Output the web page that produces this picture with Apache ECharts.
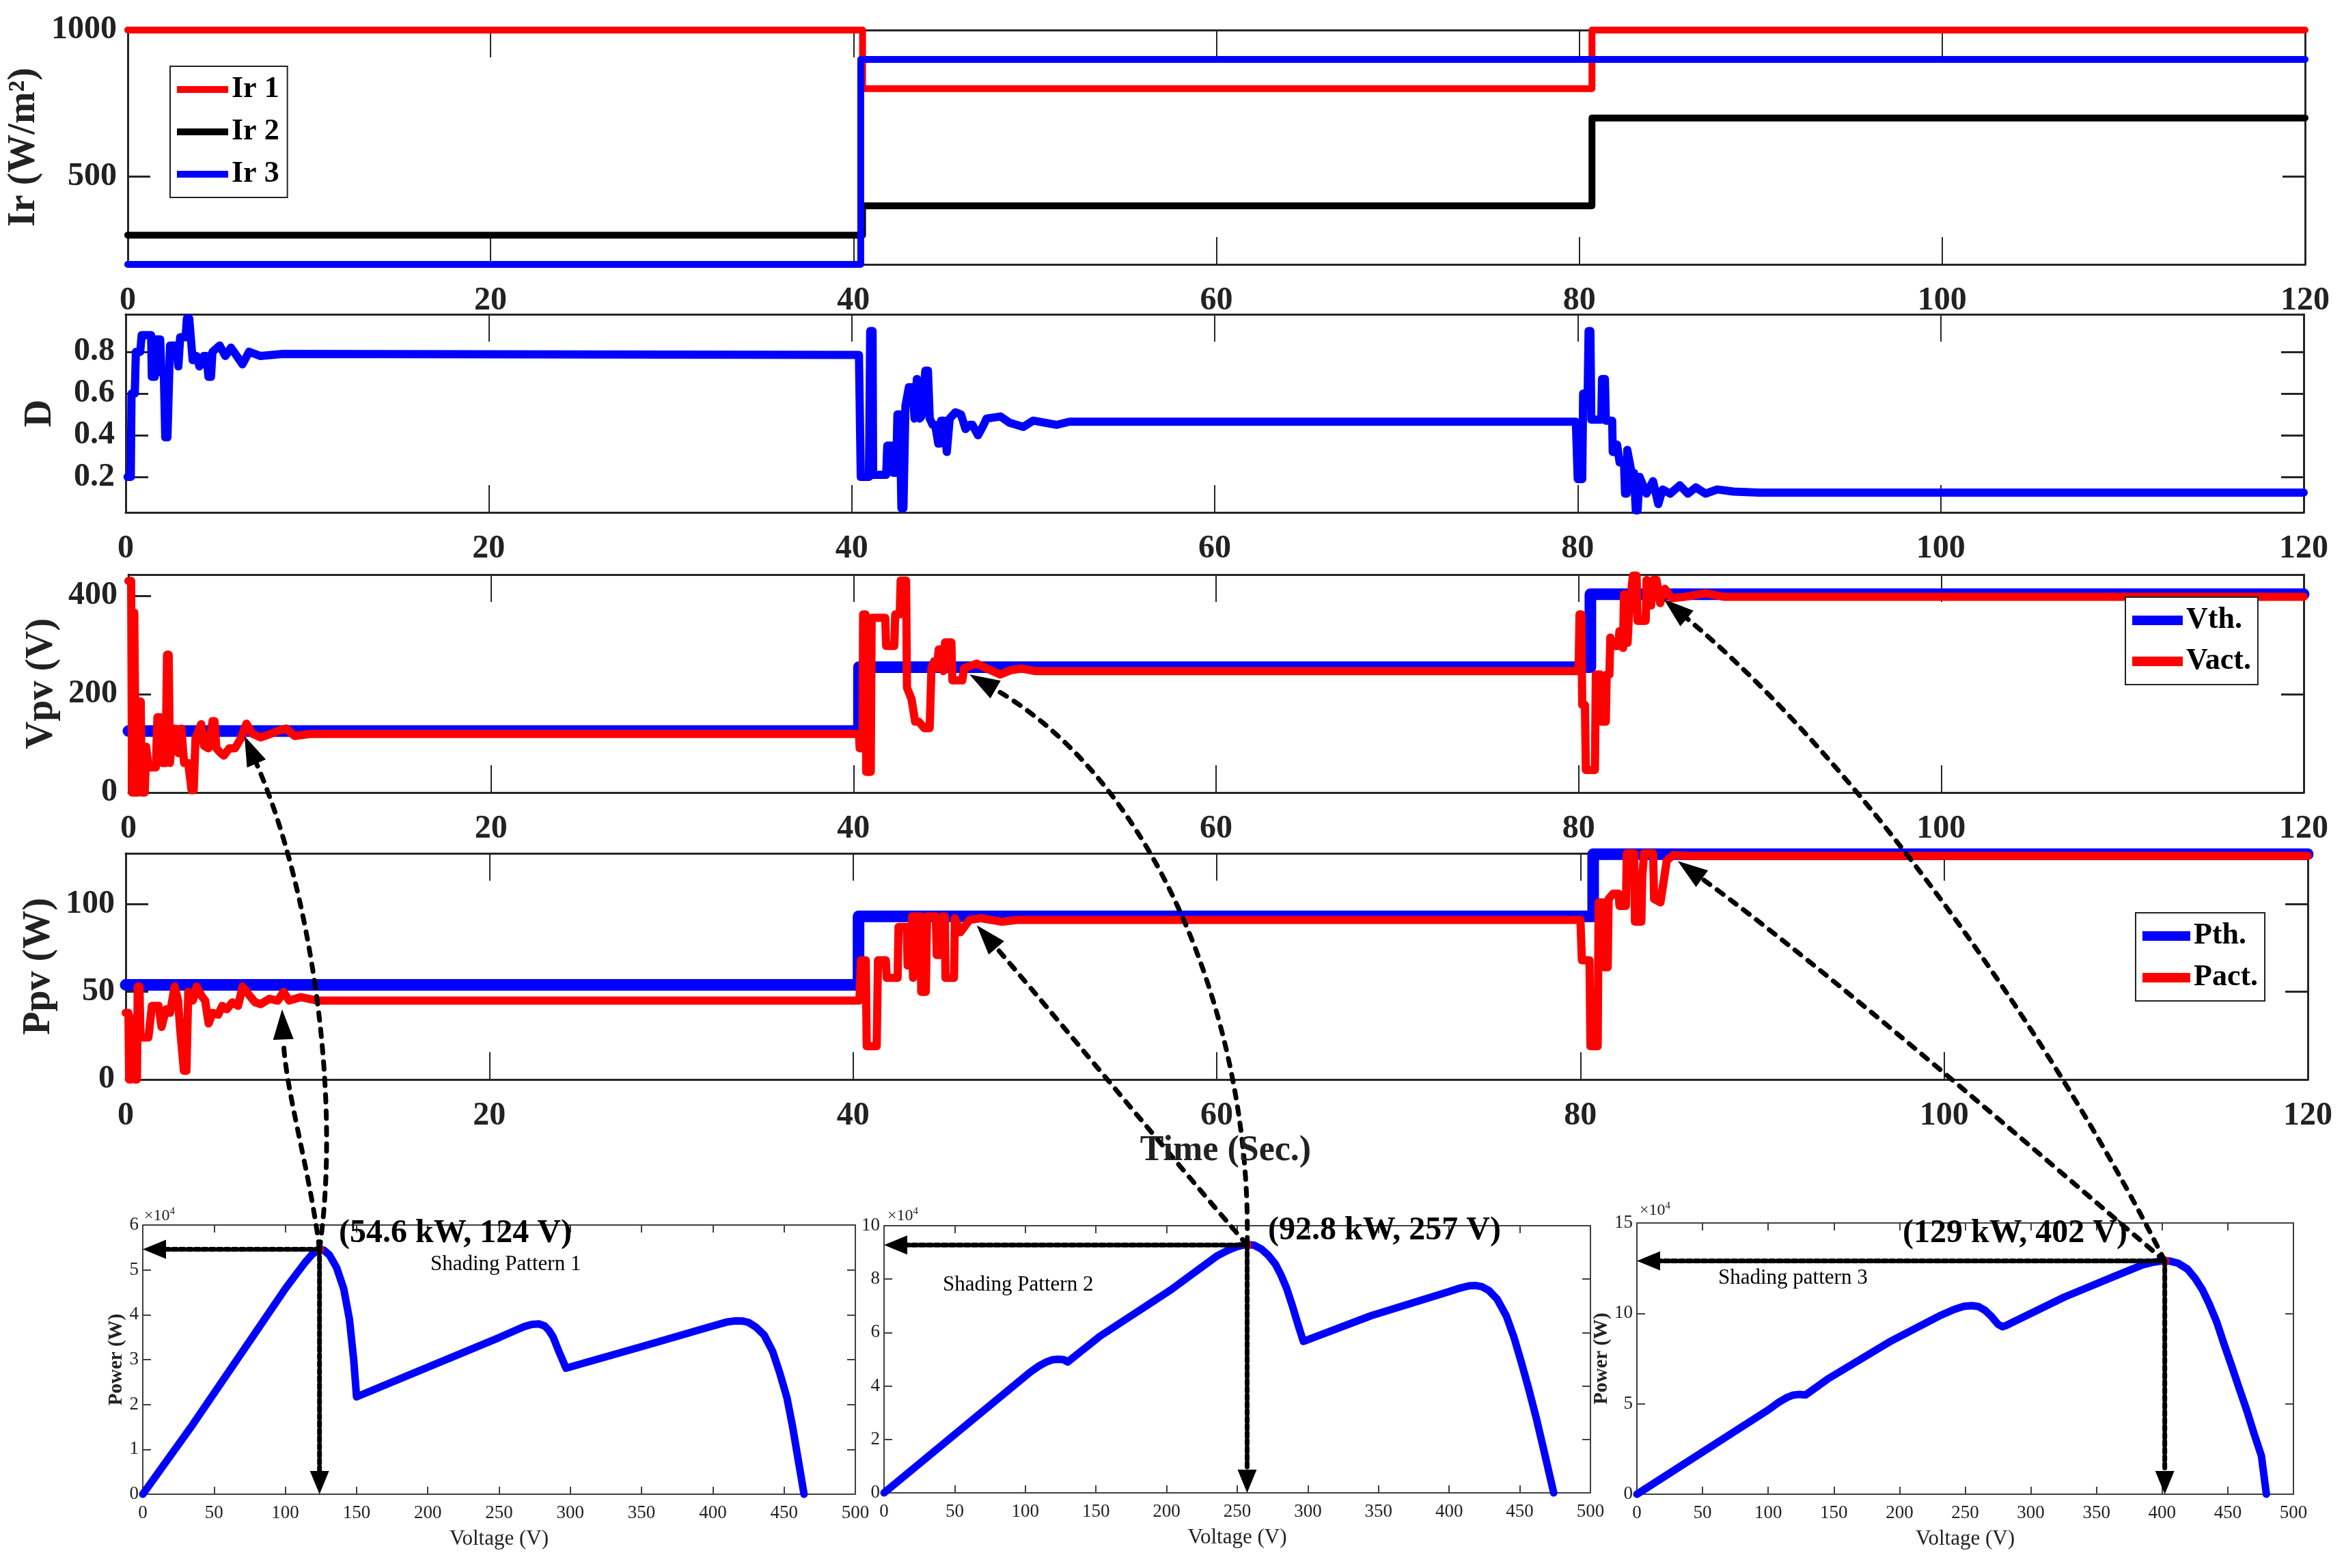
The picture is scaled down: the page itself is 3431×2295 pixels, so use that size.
<!DOCTYPE html>
<html><head><meta charset="utf-8">
<script src="https://cdn.jsdelivr.net/npm/echarts@6/dist/echarts.min.js"></script>
<style>html,body{margin:0;padding:0;background:#fff}#c{width:3431px;height:2295px}</style>
</head><body><div id="c"></div>
<script>
// ---------------- DATA ----------------
const timeTicks = [0, 20, 40, 60, 80, 100, 120];
const ir1 = [[0,1000],[40.5,1000],[40.5,800],[80.7,800],[80.7,1000],[120,1000]];
const ir2 = [[0,300],[40.5,300],[40.5,400],[80.7,400],[80.7,700],[120,700]];
const ir3 = [[0,200],[40.4,200],[40.4,900],[120,900]];
const duty = [[0.1,0.2],[0.28,0.2],[0.32,0.6],[0.5,0.6],[0.56,0.8],[0.8,0.8],[0.88,0.88],[1.4,0.88],[1.44,0.68],[1.6,0.68],[1.66,0.86],[1.9,0.86],[1.97,0.7],[2.1,0.7],[2.18,0.39],[2.3,0.39],[2.44,0.83],[2.8,0.83],[2.9,0.73],[2.95,0.73],[3.0,0.87],[3.3,0.87],[3.37,0.96],[3.5,0.96],[3.69,0.76],[3.9,0.78],[4.06,0.73],[4.2,0.75],[4.31,0.78],[4.45,0.78],[4.56,0.68],[4.7,0.68],[4.78,0.8],[5.18,0.83],[5.49,0.78],[5.8,0.82],[6.12,0.78],[6.43,0.74],[6.8,0.8],[7.43,0.78],[8.68,0.79],[40.4,0.785],
[40.5,0.2],[40.95,0.2],[41.02,0.9],[41.15,0.9],[41.18,0.21],[41.9,0.21],[41.96,0.35],[42.2,0.35],[42.28,0.22],[42.45,0.22],[42.52,0.5],[42.65,0.5],[42.74,0.05],[42.85,0.05],[42.96,0.54],[43.15,0.63],[43.35,0.63],[43.46,0.48],[43.59,0.67],[43.75,0.48],[43.84,0.49],[44.06,0.71],[44.2,0.71],[44.3,0.48],[44.46,0.45],[44.6,0.45],[44.77,0.36],[44.85,0.36],[44.93,0.47],[45.1,0.47],[45.24,0.32],[45.3,0.32],[45.4,0.48],[45.71,0.51],[46.02,0.5],[46.27,0.43],[46.5,0.45],[46.65,0.45],[46.96,0.4],[47.27,0.45],[47.43,0.48],[48.2,0.49],[48.7,0.46],[49.45,0.44],[50,0.47],[51.3,0.45],[52,0.465],[79.9,0.465],
[80.0,0.19],[80.25,0.19],[80.3,0.6],[80.55,0.6],[80.6,0.9],[80.7,0.9],[80.75,0.475],[81.3,0.475],[81.34,0.67],[81.5,0.67],[81.55,0.47],[81.9,0.47],[81.93,0.32],[82.17,0.355],[82.31,0.27],[82.55,0.27],[82.61,0.12],[82.7,0.12],[82.73,0.33],[82.97,0.22],[83.1,0.22],[83.2,0.04],[83.3,0.04],[83.41,0.2],[83.79,0.12],[84.15,0.18],[84.44,0.07],[84.68,0.14],[85.1,0.12],[85.63,0.16],[86.07,0.12],[86.51,0.15],[87.04,0.12],[87.69,0.14],[88.58,0.13],[90,0.125],[120,0.125]];
const vth = [[0,125],[40.3,125],[40.3,255],[80.65,255],[80.65,403],[120,403]];
const vact = [[0,430],[0.15,430],[0.2,0],[0.28,0],[0.32,366],[0.38,366],[0.41,0],[0.52,0],[0.57,185],[0.68,185],[0.73,0],[0.9,0],[0.98,93],[1.1,51],[1.51,51],[1.6,153],[1.75,153],[1.88,60],[2.05,60],[2.13,280],[2.22,280],[2.29,60],[2.45,130],[2.6,130],[2.76,80],[2.92,130],[3.07,60],[3.3,60],[3.48,5],[3.6,5],[3.7,110],[4.01,139],[4.17,95],[4.41,90],[4.64,145],[4.75,145],[4.85,90],[5.1,80],[5.26,75],[5.57,90],[5.88,90],[6.2,110],[6.51,140],[6.82,120],[7.29,112],[7.76,118],[8.23,125],[8.7,130],[9.17,115],[10,119],[40.3,119],
[40.34,90],[40.5,90],[40.53,362],[40.66,362],[40.7,42],[40.95,42],[41.0,355],[41.75,355],[41.8,298],[42.25,298],[42.3,362],[42.55,362],[42.6,431],[42.9,431],[42.95,213],[43.2,190],[43.4,144],[43.6,144],[43.9,131],[44.2,131],[44.3,253],[44.45,267],[44.6,253],[44.7,291],[44.9,291],[44.95,247],[45.05,305],[45.4,305],[45.45,228],[46.0,228],[46.1,253],[46.8,262],[47.3,253],[48.1,240],[48.7,249],[49.3,252],[50,247],[80.0,247],
[80.05,362],[80.15,362],[80.2,178],[80.35,178],[80.4,46],[80.9,46],[80.95,240],[81.2,240],[81.25,144],[81.5,144],[81.55,240],[81.7,240],[81.75,315],[81.9,298],[82.2,298],[82.25,328],[82.45,294],[82.5,403],[82.6,376],[82.7,304],[82.8,376],[83.0,441],[83.2,441],[83.25,349],[83.7,349],[83.75,432],[84.0,380],[84.1,432],[84.3,432],[84.5,385],[84.76,414],[85.14,395],[85.9,398],[87,405],[88,398],[120,398]];
const pth = [[0,54],[40.3,54],[40.3,93],[80.7,93],[80.7,128.5],[120,128.5]];
const pact = [[0,38],[0.15,38],[0.19,0],[0.28,0],[0.32,35],[0.45,35],[0.5,0],[0.62,0],[0.66,53],[0.76,53],[0.81,24],[1.25,24],[1.44,42],[1.81,42],[1.97,30],[2.22,40],[2.44,38],[2.69,53],[2.88,45],[3.0,28],[3.2,5],[3.34,5],[3.44,50],[3.69,45],[3.9,53],[4.15,48],[4.37,45],[4.56,32],[4.78,38],[5.09,37],[5.31,42],[5.56,40],[5.87,44],[6.18,42],[6.43,53],[6.8,48],[7.12,44],[7.43,43],[7.9,46],[8.37,45],[8.68,50],[8.99,45],[9.62,47],[10.55,45],[40.35,45],
[40.43,68],[40.7,68],[40.75,19],[41.3,19],[41.37,68],[41.8,68],[41.85,58],[42.45,58],[42.5,87],[42.95,87],[43.0,65],[43.2,65],[43.25,93],[43.3,58],[43.35,93],[43.7,93],[43.75,50],[44.0,50],[44.07,93],[44.55,93],[44.6,71],[44.85,71],[44.9,93],[45.05,93],[45.08,58],[45.55,58],[45.6,92],[45.9,84],[46.4,91],[47,92],[48.2,90],[49,91],[80.0,91],
[80.08,68],[80.5,68],[80.55,19],[80.95,19],[81.0,101],[81.25,101],[81.3,64],[81.5,64],[81.55,103],[81.8,106],[82.1,106],[82.15,99],[82.5,99],[82.55,129],[82.95,129],[83.0,90],[83.35,90],[83.4,116],[83.5,129],[84.0,129],[84.05,103],[84.4,101],[84.75,125],[85.1,128],[86,127.5],[120,127.5]];
// P-V curves: [voltage V, power W]
const pv1 = [[0,0],[35,15500],[79,36000],[100,45800],[108,49200],[114,51700],[119,53500],[124,54600],[127,54400],[131,53300],[136,50500],[141,45800],[145,39000],[148,30000],[150,21700],[200,28300],[250,34900],[262,36600],[268,37400],[273,37850],[278,37950],[282,37500],[285,36500],[288,35000],[292,31800],[297,28100],[350,32900],[400,37500],[410,38400],[416,38650],[421,38600],[425,38300],[430,37300],[436,35500],[442,31800],[447,27000],[452,21500],[456,15000],[460,7500],[464,0]];
const pv2 = [[0,0],[103.5,45200],[110,47600],[115,49000],[119,49800],[123,50000],[127,49900],[130,49000],[153,58700],[203,76000],[236,88800],[243,90700],[249,92000],[254,92700],[258,92900],[262,92700],[267,91300],[272,88900],[277,85600],[281,81500],[285,76500],[289,70000],[293,63000],[296.8,56700],[344.7,66300],[397.9,75000],[408,76700],[414,77500],[419,77600],[423,77200],[428,75800],[434,72500],[440.4,66300],[446,58000],[451,49000],[456,39500],[461.7,27900],[467,16000],[474,0]];
const pv3 = [[0,0],[100.2,46700],[108,50800],[114,53400],[119,54800],[124,55200],[128.4,54900],[145.3,63700],[194,84900],[231.6,99000],[242,102300],[249,103900],[255,104300],[260,103800],[265,101700],[270,98300],[275,94000],[278.5,92600],[282,93600],[325.5,109000],[363,120300],[385,126800],[393,128300],[400,129000],[406,128900],[412,127800],[419.3,124500],[425,119500],[430.6,113200],[436,105000],[441.8,94800],[447,83300],[453,70800],[458,60000],[464.3,46700],[470,33500],[475.6,21200],[479.4,0]];
const mpp = [[124,54600],[257,92800],[402,129000]];
const mppLabels = ['(54.6 kW, 124 V)', '(92.8 kW, 257 V)', '(129 kW, 402 V)'];
const shadingLabels = ['Shading Pattern 1', 'Shading Pattern 2', 'Shading pattern 3'];
const pvYTicks = [[0,60000,10000],[0,100000,20000],[0,150000,50000]];
const vArrowTargets = [[6.4,115],[46.4,240],[84.7,393]];
const pArrowTargets = [[8.6,40],[46.8,88],[85.35,124.6]];

// ---------------- LAYOUT ----------------
const FONT = 'Liberation Serif';
const AX = '#262626';
const grids = [
  {left:179, top:44, width:3195, height:343},
  {left:184, top:460, width:3188, height:290},
  {left:188, top:841, width:3184, height:319},
  {left:184, top:1249, width:3194, height:331},
  {left:209, top:1793, width:1043, height:394},
  {left:1294, top:1794, width:1034, height:391},
  {left:2396, top:1790, width:961, height:397}
];
const timePanels = [
  {ymin:200, ymax:1000, yticks:[500,1000], name:'Ir (W/m²)', gap:88},
  {ymin:0.03, ymax:0.98, yticks:[0.2,0.4,0.6,0.8], name:'D', gap:96},
  {ymin:0, ymax:443, yticks:[0,200,400], name:'Vpv (V)', gap:96},
  {ymin:0, ymax:129, yticks:[0,50,100], name:'Ppv (W)', gap:90}
];

const xAxes = [], yAxes = [];
timePanels.forEach((p, i) => {
  const base = {type:'value', gridIndex:i, min:0, max:120, interval:20, splitLine:{show:false},
    axisLine:{show:true, onZero:false, lineStyle:{color:AX, width:3}},
    axisTick:{show:true, inside:true, length:40, lineStyle:{color:AX, width:2}}};
  xAxes.push(Object.assign({}, base, {position:'bottom',
    axisLabel:{show:true, margin:30, fontFamily:FONT, fontWeight:'bold', fontSize:48, color:'#222', formatter: v => String(v)}}));
  xAxes.push(Object.assign({}, base, {position:'top', axisLabel:{show:false}}));
  const yb = {type:'value', gridIndex:i, min:p.ymin, max:p.ymax, splitLine:{show:false},
    axisLine:{show:true, onZero:false, lineStyle:{color:AX, width:3}},
    axisTick:{show:true, inside:true, length:33, customValues:p.yticks, lineStyle:{color:AX, width:3}}};
  yAxes.push(Object.assign({}, yb, {position:'left', name:p.name, nameLocation:'middle', nameGap:p.gap, nameRotate:90,
    nameTextStyle:{fontFamily:FONT, fontWeight:'bold', fontSize:56, color:'#222'},
    axisLabel:{show:true, margin:16, customValues:p.yticks, fontFamily:FONT, fontWeight:'bold', fontSize:48, color:'#222', formatter: v => String(v)}}));
  yAxes.push(Object.assign({}, yb, {position:'right', axisLabel:{show:false}}));
});
[0,1,2].forEach(k => {
  const gi = 4 + k;
  const xb = {type:'value', gridIndex:gi, min:0, max:500, interval:50, splitLine:{show:false},
    axisLine:{show:true, onZero:false, lineStyle:{color:'#404040', width:2}},
    axisTick:{show:true, inside:true, length:11, lineStyle:{color:'#404040', width:2}}};
  xAxes.push(Object.assign({}, xb, {position:'bottom', name:'Voltage (V)', nameLocation:'middle', nameGap:50,
    nameTextStyle:{fontFamily:FONT, fontSize:31, color:'#222'},
    axisLabel:{show:true, margin:14, fontFamily:FONT, fontSize:27, color:'#222'}}));
  xAxes.push(Object.assign({}, xb, {position:'top', axisLabel:{show:false}}));
  const t = pvYTicks[k];
  const yb = {type:'value', gridIndex:gi, min:t[0], max:t[1], interval:t[2], splitLine:{show:false},
    axisLine:{show:true, onZero:false, lineStyle:{color:'#404040', width:2}},
    axisTick:{show:true, inside:true, length:12, lineStyle:{color:'#404040', width:2}}};
  yAxes.push(Object.assign({}, yb, {position:'left', name: k === 1 ? '' : 'Power (W)', nameLocation:'middle',
    nameGap: k === 0 ? 24 : 30, nameRotate:90,
    nameTextStyle:{fontFamily:FONT, fontWeight:'bold', fontSize:29, color:'#222'},
    axisLabel:{show:true, margin:6, fontFamily:FONT, fontSize:27, color:'#222', formatter: v => String(v/10000)}}));
  yAxes.push(Object.assign({}, yb, {position:'right', axisLabel:{show:false}}));
});

function lineSeries(name, data, gi, color, width, z) {
  return {type:'line', name, data, xAxisIndex:2*gi, yAxisIndex:2*gi, showSymbol:false, symbol:'none',
    clip:false, animation:false, z: z || 2,
    lineStyle:{color, width, cap:'round', join:'round'}, itemStyle:{color}};
}
const series = [
  lineSeries('Ir 1', ir1, 0, '#ff0000', 10),
  lineSeries('Ir 2', ir2, 0, '#000000', 10),
  lineSeries('Ir 3', ir3, 0, '#0000ff', 10),
  lineSeries('D', duty, 1, '#0000ff', 12),
  lineSeries('Vth.', vth, 2, '#0000ff', 17),
  lineSeries('Vact.', vact, 2, '#ff0000', 12, 3),
  lineSeries('Pth.', pth, 3, '#0000ff', 17),
  lineSeries('Pact.', pact, 3, '#ff0000', 12, 3),
  lineSeries('PV1', pv1, 4, '#0000ff', 11),
  lineSeries('PV2', pv2, 5, '#0000ff', 11),
  lineSeries('PV3', pv3, 6, '#0000ff', 11)
];
[0,1,2].forEach(k => {
  series.push({type:'scatter', name:'MPP'+(k+1), data:[mpp[k]], xAxisIndex:2*(4+k), yAxisIndex:2*(4+k),
    symbol:'circle', symbolSize:14, itemStyle:{color:'#ff0000'}, z:5, animation:false, clip:false});
});

const legStyle = {orient:'vertical', icon:'rect', borderColor:'#222', borderWidth:2, backgroundColor:'#fff',
  selectedMode:false, textStyle:{fontFamily:FONT, fontWeight:'bold', fontSize:44, color:'#000'}};
const option = {
  animation:false,
  backgroundColor:'#fff',
  grid: grids,
  xAxis: xAxes,
  yAxis: yAxes,
  legend: [
    Object.assign({}, legStyle, {data:['Ir 1','Ir 2','Ir 3'], left:249, top:97, padding:[12,12,12,10], itemGap:18, itemWidth:75, itemHeight:10}),
    Object.assign({}, legStyle, {data:['Vth.','Vact.'], left:3111, top:874, padding:[12,10,12,10], itemGap:16, itemWidth:74, itemHeight:14}),
    Object.assign({}, legStyle, {data:['Pth.','Pact.'], left:3126, top:1336, padding:[12,10,12,10], itemGap:17, itemWidth:70, itemHeight:14})
  ],
  series
};

const chart = echarts.init(document.getElementById('c'), null, {renderer:'canvas', width:3431, height:2295});
chart.setOption(option);

// ---------------- ANNOTATIONS ----------------
const g = [];
const px = (si, v) => chart.convertToPixel({seriesIndex: si}, v);
function curveArrow(S, E, c1o, c2o, o) {
  const c1 = [S[0]+c1o[0], S[1]+c1o[1]];
  const c2 = [E[0]+c2o[0], E[1]+c2o[1]];
  let dx = E[0]-c2[0], dy = E[1]-c2[1]; const L = Math.hypot(dx, dy); dx /= L; dy /= L;
  const b = [E[0]-dx*o.len, E[1]-dy*o.len];
  g.push({type:'bezierCurve', silent:true, z:100,
    shape:{x1:S[0], y1:S[1], x2:b[0], y2:b[1], cpx1:c1[0], cpy1:c1[1], cpx2:c2[0], cpy2:c2[1]},
    style:{stroke:'#000', fill:null, lineWidth:o.w, lineDash:o.dash, lineCap:'round'}});
  const nx = -dy, ny = dx;
  g.push({type:'polygon', silent:true, z:101,
    shape:{points:[E, [b[0]+nx*o.hw, b[1]+ny*o.hw], [b[0]-nx*o.hw, b[1]-ny*o.hw]]}, style:{fill:'#000'}});
}
function straightArrow(S, E, o) {
  curveArrow(S, E, [0,0], [S[0]-E[0], S[1]-E[1]], o);
}
const bigDash = {w:7, dash:[11,13], len:44, hw:15};
const smallDash = {w:7, dash:[6,5], len:34, hw:14};
const curveOffsets = [
  {v:[[32,-225],[97,223]], p:[[-15,-120],[5,120]]},
  {v:[[7,-313],[280,163]], p:[[-100,-115],[100,115]]},
  {v:[[-150,-300],[300,250]], p:[[-200,-170],[220,160]]}
];
const textPos = [[496,1806],[1856,1802],[2785,1806]];
const shadePos = [[630,1851],[1380,1881],[2515,1871]];
const expPos = [[211,1780],[1299,1780],[2400,1772]];
[0,1,2].forEach(k => {
  const si = 8 + k;
  const S = px(si, mpp[k]);
  const yMin = pvYTicks[k][0];
  const leftPt = px(si, [0, mpp[k][1]]);
  const botPt = px(si, [mpp[k][0], yMin]);
  straightArrow(S, leftPt, smallDash);
  straightArrow(S, botPt, smallDash);
  const Ev = px(5, vArrowTargets[k]);
  const Ep = px(7, pArrowTargets[k]);
  curveArrow(S, Ev, curveOffsets[k].v[0], curveOffsets[k].v[1], bigDash);
  curveArrow(S, Ep, curveOffsets[k].p[0], curveOffsets[k].p[1], bigDash);
  g.push({type:'text', z:102, x:textPos[k][0], y:textPos[k][1],
    style:{text:mppLabels[k], font:'bold 48px "Liberation Serif"', fill:'#000', align:'left', verticalAlign:'middle'}});
  g.push({type:'text', z:102, x:shadePos[k][0], y:shadePos[k][1],
    style:{text:shadingLabels[k], font:'31px "Liberation Serif"', fill:'#000', align:'left', verticalAlign:'middle'}});
  g.push({type:'text', z:102, x:expPos[k][0], y:expPos[k][1],
    style:{text:'×10{s|4}', font:'24px "Liberation Serif"', fill:'#222', align:'left', verticalAlign:'middle',
      rich:{s:{fontSize:15, fontFamily:FONT, verticalAlign:'top', padding:[0,0,14,0]}}}});
});
g.push({type:'text', z:102, x:1794, y:1685,
  style:{text:'Time (Sec.)', font:'bold 52px "Liberation Serif"', fill:'#222', align:'center', verticalAlign:'middle'}});
chart.setOption({graphic:{elements:g}});
</script>
</body></html>
